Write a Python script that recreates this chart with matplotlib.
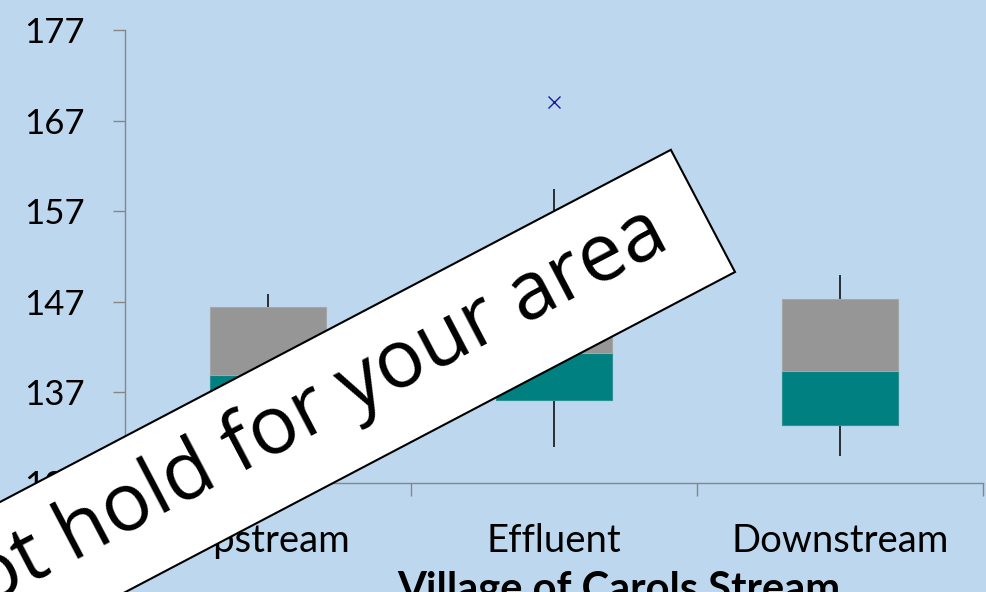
import numpy as np
import matplotlib
matplotlib.use("Agg")
import matplotlib.pyplot as plt
from matplotlib.patches import Rectangle
from matplotlib.transforms import IdentityTransform

# box plot summary per sampling site
sites = ["Upstream", "Effluent", "Downstream"]
lo_whisker = [130.0, 131.0, 130.0]
q1 = [134.0, 136.2, 133.4]
median = [138.9, 141.4, 139.4]
q3 = [146.4, 148.5, 147.3]
hi_whisker = [147.9, 159.4, 150.0]
outlier_site = [1]
outlier_val = [169.0]

yticks = [127, 137, 147, 157, 167, 177]

bg = "#BDD7EE"
teal = "#008080"
grey = "#969696"
axis_col = "#868686"

plt.rcParams["font.family"] = ["Lato", "DejaVu Sans"]

fig = plt.figure(figsize=(9.87, 5.92), dpi=100, facecolor=bg)
ax = fig.add_axes([125 / 987, 1 - 483 / 592, (983 - 125) / 987, (483 - 30) / 592])
ax.set_facecolor(bg)

x = np.arange(len(sites))
q1a = np.array(q1)
meda = np.array(median)
q3a = np.array(q3)

ax.vlines(x, lo_whisker, q1, color="black", lw=1.1, zorder=1)
ax.vlines(x, q3, hi_whisker, color="black", lw=1.1, zorder=1)
ax.bar(x, meda - q1a, bottom=q1a, width=0.405, color=teal, edgecolor="#2E9090", lw=0.8, zorder=2)
ax.bar(x, q3a - meda, bottom=meda, width=0.405, color=grey, edgecolor="#A6A6A6", lw=0.8, zorder=2)
ax.plot(outlier_site, outlier_val, ls="none", marker="x", ms=9, mew=1.0, color="#1A1A99", zorder=3)

ax.set_xlim(-0.5, 2.5)
ax.set_ylim(127, 177)
ax.set_yticks(yticks)
ax.set_xticks([0.5, 1.5, 2.5])
ax.set_xticklabels([])
ax.set_xticks(x, minor=True)
ax.set_xticklabels(sites, minor=True)

for s in ["top", "right"]:
    ax.spines[s].set_visible(False)
for s in ["left", "bottom"]:
    ax.spines[s].set_color(axis_col)
    ax.spines[s].set_linewidth(1.0)

ax.tick_params(axis="y", which="major", length=9, width=1, color=axis_col, pad=20, labelsize=25)
ax.tick_params(axis="x", which="major", length=9, width=1, color=axis_col)
ax.tick_params(axis="x", which="minor", length=0, pad=29, labelsize=27.5)

fig.text(619 / 987, 1 - 590 / 592, "Village of Carols Stream", ha="center", va="center",
         fontsize=30, fontweight="bold")

# tilted banner across the plot, drawn in pixel space
ang = 27.7
t = np.deg2rad(ang)
e = np.array([np.cos(t), np.sin(t)])
right_bottom = np.array([735.0, 592 - 272.0])
band_w = 138.0
band_len = 1100.0
corner = right_bottom - band_len * e
banner = Rectangle(corner, band_len, band_w, angle=ang, transform=IdentityTransform(),
                   facecolor="white", edgecolor="black", lw=1.5, zorder=10)
fig.patches.append(banner)

n = np.array([-np.sin(t), np.cos(t)])
mid_right = right_bottom + 0.5 * band_w * n
anchor = mid_right - 44 * e + 4 * n
fig.text(anchor[0], anchor[1], "Results may not hold for your area", transform=IdentityTransform(),
         rotation=ang, rotation_mode="anchor", ha="right", va="center",
         fontsize=58, family=["Open Sans", "DejaVu Sans"], zorder=11)

fig.savefig("out.png", dpi=100, facecolor=bg)
